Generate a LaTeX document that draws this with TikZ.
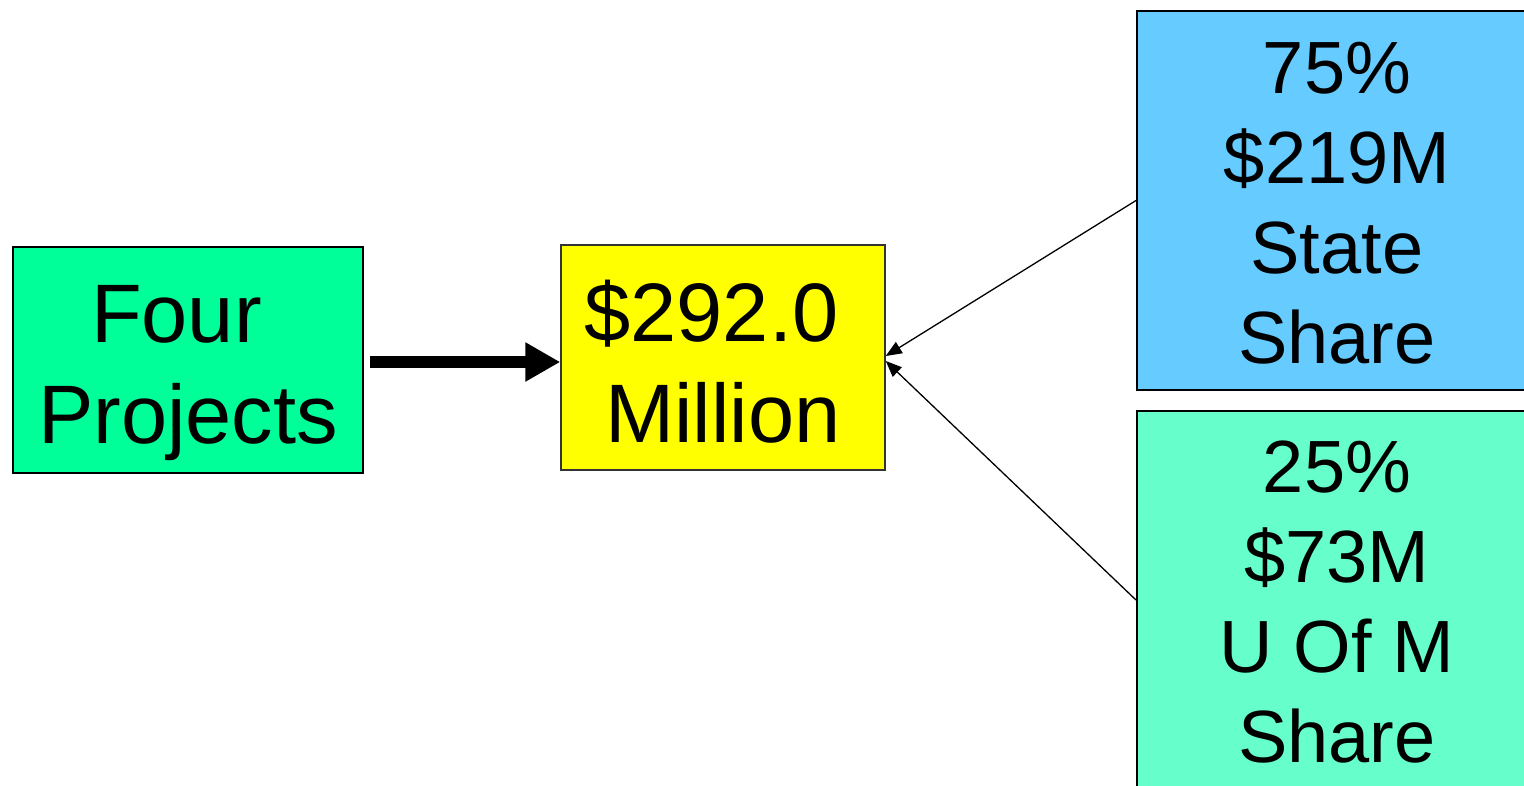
\documentclass[tikz,border=0pt]{standalone}
\usepackage{fontspec}
\setmainfont{Liberation Sans}
\usetikzlibrary{arrows.meta}
\definecolor{projgreen}{HTML}{00FF99}
\definecolor{totalyellow}{HTML}{FFFF00}
\definecolor{stateblue}{HTML}{66CCFF}
\definecolor{univgreen}{HTML}{66FFCC}
\begin{document}
\begin{tikzpicture}[x=1pt,y=-1pt,
  panel/.style={draw=black, line width=2pt, rectangle, inner sep=0pt},
  bigtxt/.style={font=\fontsize{83}{101}\selectfont, align=center, anchor=base, inner sep=0pt},
  sidetxt/.style={font=\fontsize{74}{89.7}\selectfont, align=center, anchor=base, inner sep=0pt},
  feed/.style={draw=black, line width=12pt, -{Triangle[length=35pt,width=37pt]}},
  share/.style={draw=black, line width=1.3pt, -{Triangle[length=16pt,width=13pt]}}]
\useasboundingbox (0,0) rectangle (1524,785);

% boxes
\node[panel, fill=projgreen, minimum width=350pt, minimum height=226pt] (four) at (188,360) {};
\node[panel, fill=totalyellow, draw=black!80, line width=1.5pt, minimum width=324pt, minimum height=225pt] (total) at (723,357.5) {};
\node[panel, fill=stateblue, minimum width=400pt, minimum height=379pt] (state) at (1337,200.5) {};
\node[panel, fill=univgreen, minimum width=400pt, minimum height=378pt] (univ) at (1337,600) {};

% labels
\node[bigtxt] (fourtxt) at (188,443) {Four\kern.278em\\Projects};
\node[bigtxt] (totaltxt) at (723,442) {\$292.0\kern.278em\\Million};
\node[sidetxt] (statetxt) at (1337,363) {75\%\\\$219M\\State\\Share};
\node[sidetxt] (univtxt) at (1337,762) {25\%\\\$73M\\U Of M\\Share};

% connectors
\draw[feed] ([shift={(6pt,-2pt)}]four.east) -- ([yshift=-4.5pt]total.west);
\draw[share] (state.west) -- ([yshift=1.5pt]total.east);
\draw[share] (univ.west) -- ([yshift=-3.5pt]total.east);
\end{tikzpicture}
\end{document}
